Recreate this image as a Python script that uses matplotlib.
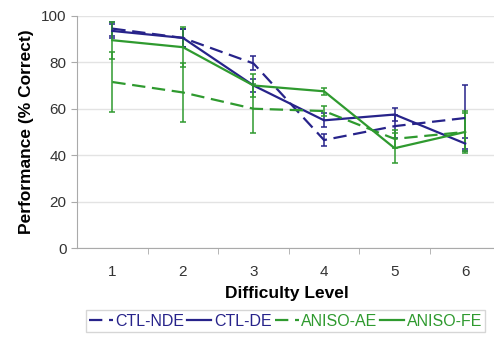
import numpy as np
import matplotlib.pyplot as plt
from matplotlib.lines import Line2D

plt.rcParams["font.family"] = ["Liberation Sans", "DejaVu Sans"]

levels = [1, 2, 3, 4, 5, 6]

ctl_nde = [94.5, 90.5, 79.5, 46.5, 52.5, 56]
ctl_nde_err = [3, 4, 3, 2.5, 5, 14]
ctl_de = [93.5, 90.5, 70, 55, 57.5, 45]
ctl_de_err = [3, 4, 3, 3, 3, 2.5]
aniso_ae = [71.5, 67, 60, 59, 47, 50]
aniso_ae_err = [13, 12.7, 10.5, 2, 4, 9]
aniso_fe = [89.5, 86.5, 70, 67.5, 43, 50]
aniso_fe_err = [8, 8.5, 5, 1.5, 6.5, 8]

names = ["CTL-NDE", "CTL-DE", "ANISO-AE", "ANISO-FE"]

navy = "#27238a"
green = "#2f9a2f"
dash = (0, (6, 3))

fig = plt.figure(figsize=(4.94, 3.37), dpi=100)
ax = fig.add_axes([0.156, 0.264, 0.85, 0.689])

series = [
    (ctl_nde, ctl_nde_err, navy, dash),
    (ctl_de, ctl_de_err, navy, "-"),
    (aniso_ae, aniso_ae_err, green, dash),
    (aniso_fe, aniso_fe_err, green, "-"),
]
handles = []
for (vals, err, col, ls), name in zip(series, names):
    eb = ax.errorbar(levels, vals, yerr=err, color=col, lw=1.6, ls=ls,
                     elinewidth=1.1, capsize=2.5, capthick=1.1)
    eb[-1][0].set_linestyle("-")
    handles.append(Line2D([], [], color=col, lw=1.6, ls=ls, label=name))

ax.set_xlim(0.5, 6.45)
ax.set_ylim(0, 100)
ax.set_yticks([0, 20, 40, 60, 80, 100])
ax.set_xticks(levels)
ax.set_xticks([1.5, 2.5, 3.5, 4.5, 5.5], minor=True)
ax.tick_params(axis="x", which="major", length=0, pad=12, labelsize=11, labelcolor="#333333")
ax.tick_params(axis="x", which="minor", length=4, color="#aaaaaa", direction="out")
ax.tick_params(axis="y", length=4, color="#aaaaaa", labelsize=11, labelcolor="#333333")
ax.grid(axis="y", color="#e3e3e3", lw=1)
ax.set_axisbelow(True)
for s in ["top", "right"]:
    ax.spines[s].set_visible(False)
ax.spines["left"].set_color("#aaaaaa")
ax.spines["bottom"].set_color("#aaaaaa")

ax.set_xlabel("Difficulty Level", fontsize=12.5, fontweight="bold", labelpad=5)
ax.set_ylabel("Performance (% Correct)", fontsize=12.5, fontweight="bold", labelpad=5)

leg = fig.legend(handles=handles, loc="center", bbox_to_anchor=(0.578, 0.047), ncol=4,
                 fontsize=11.5, frameon=True, fancybox=False, edgecolor="#cccccc",
                 handlelength=1.5, handletextpad=0.15, columnspacing=0.2,
                 borderpad=0.2)
for txt, col in zip(leg.get_texts(), [navy, navy, green, green]):
    txt.set_color(col)

fig.savefig("out.png", dpi=100)
